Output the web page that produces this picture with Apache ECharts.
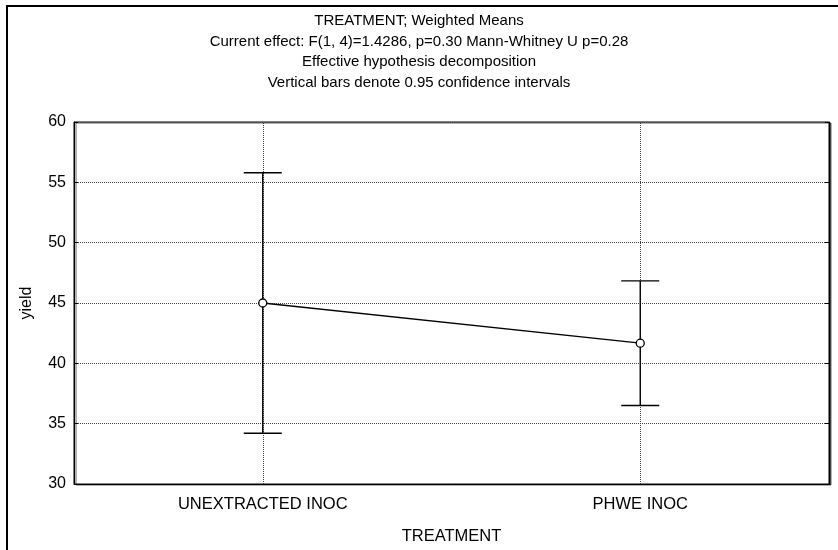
<!DOCTYPE html>
<html>
<head>
<meta charset="utf-8">
<script src="https://cdn.jsdelivr.net/npm/echarts@6/dist/echarts.min.js"></script>
<style>
  html, body { margin: 0; padding: 0; background: #fff; }
  #chart { width: 838px; height: 550px; }
</style>
</head>
<body>
<div id="chart"></div>
<script>
// Treatment groups and their weighted means with 95% confidence limits
const categories = ['UNEXTRACTED INOC', 'PHWE INOC'];
const means = [45.0, 41.67];
const lowerCI = [34.2, 36.5];
const upperCI = [55.8, 46.83];
const yTicks = { min: 30, max: 60, step: 5 };

const titleLines = [
  'TREATMENT; Weighted Means',
  'Current effect: F(1, 4)=1.4286, p=0.30 Mann-Whitney U p=0.28',
  'Effective hypothesis decomposition',
  'Vertical bars denote 0.95 confidence intervals'
];

const FONT = 'Liberation Sans, Arial, sans-serif';
const chart = echarts.init(document.getElementById('chart'), null, { renderer: 'canvas' });

const dotted = { color: '#444', width: 1, type: [1, 1] };

chart.setOption({
  backgroundColor: '#fff',
  animation: false,
  title: {
    text: titleLines.join('\n'),
    left: 'center',
    top: 11,
    padding: 0,
    textStyle: { fontFamily: FONT, fontSize: 15, fontWeight: 'normal', color: '#000', lineHeight: 20.5 }
  },
  graphic: [{
    type: 'rect',
    shape: { x: 7, y: 6, width: 845, height: 560 },
    style: { fill: null, stroke: '#000', lineWidth: 2 },
    silent: true
  }],
  grid: {
    left: 74, right: 9, top: 122, bottom: 65,
    show: true, backgroundColor: '#fff', borderColor: '#000', borderWidth: 1,
    shadowColor: 'rgba(0,0,0,0.6)', shadowOffsetX: 2, shadowOffsetY: 1, shadowBlur: 0
  },
  xAxis: {
    type: 'category',
    data: categories,
    boundaryGap: true,
    name: 'TREATMENT',
    nameLocation: 'middle',
    nameGap: 44,
    nameTextStyle: { fontFamily: FONT, fontSize: 16.5, color: '#000' },
    axisLine: { lineStyle: { color: '#000', width: 1 } },
    axisTick: { show: false },
    axisLabel: { fontFamily: FONT, fontSize: 16.5, color: '#000', margin: 12 },
    splitLine: { show: false }
  },
  yAxis: [{
    type: 'value',
    min: yTicks.min, max: yTicks.max, interval: yTicks.step,
    name: 'yield',
    nameLocation: 'middle',
    nameGap: 39,
    nameTextStyle: { fontFamily: FONT, fontSize: 16, color: '#000' },
    axisLine: { show: true, lineStyle: { color: '#000', width: 1 } },
    axisTick: { show: true, inside: true, length: 4, lineStyle: { color: '#000' } },
    axisLabel: { fontFamily: FONT, fontSize: 16, color: '#000', margin: 8 },
    splitLine: { show: true, lineStyle: dotted }
  }, {
    type: 'value',
    position: 'right',
    min: yTicks.min, max: yTicks.max, interval: yTicks.step,
    axisLine: { show: true, lineStyle: { color: '#000', width: 1 } },
    axisTick: { show: true, inside: true, length: 4, lineStyle: { color: '#000' } },
    axisLabel: { show: false },
    splitLine: { show: false }
  }],
  series: [{
    // 95% confidence interval whiskers
    type: 'custom',
    z: 3,
    data: categories.map((c, i) => [i, lowerCI[i], upperCI[i]]),
    renderItem: function (params, api) {
      const x = api.value(0);
      const lo = api.coord([x, api.value(1)]);
      const hi = api.coord([x, api.value(2)]);
      const cap = 19;
      const st = { stroke: '#000', lineWidth: 1.4 };
      return {
        type: 'group',
        children: [
          { type: 'line', shape: { x1: lo[0], y1: lo[1], x2: hi[0], y2: hi[1] }, style: st },
          { type: 'line', shape: { x1: hi[0] - cap, y1: hi[1], x2: hi[0] + cap, y2: hi[1] }, style: st },
          { type: 'line', shape: { x1: lo[0] - cap, y1: lo[1], x2: lo[0] + cap, y2: lo[1] }, style: st }
        ]
      };
    }
  }, {
    // weighted means joined by a line
    type: 'line',
    z: 4,
    data: means,
    symbol: 'circle',
    symbolSize: 8,
    lineStyle: { color: '#000', width: 1.3 },
    itemStyle: { color: '#fff', borderColor: '#000', borderWidth: 1.3 },
    markLine: {
      silent: true,
      symbol: 'none',
      label: { show: false },
      lineStyle: dotted,
      z: 1,
      data: categories.map(c => ({ xAxis: c }))
    }
  }]
});
</script>
</body>
</html>
